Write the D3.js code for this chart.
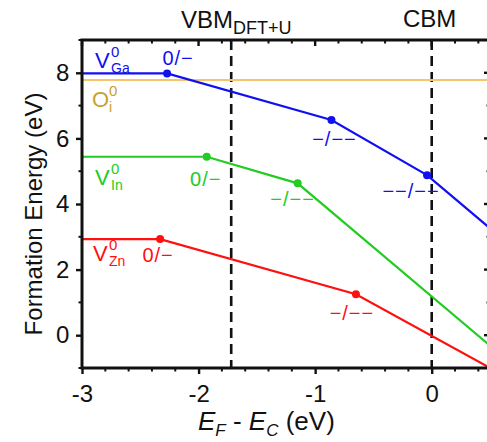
<!DOCTYPE html>
<html>
<head>
<meta charset="utf-8">
<script src="https://cdn.jsdelivr.net/npm/d3@7"></script>
<style>
  html, body { margin: 0; padding: 0; background: #fff; }
  svg { display: block; font-family: "Liberation Sans", Arial, sans-serif; }
</style>
</head>
<body>
<svg id="chart" width="487" height="442"></svg>
<script>
// Formation energy of native defects vs Fermi level (relative to CBM)
const fermiDomain = [-3, 0.5];
const energyDomain = [-1, 9];
const xMajorTicks = [-3, -2, -1, 0];
const yMajorTicks = [0, 2, 4, 6, 8];

// vertices of each defect's lowest-energy line (Fermi level, eV)
const fermi_VGa = [-3, -2.27, -0.86, -0.04, 0.5];
const energy_VGa = [7.98, 7.98, 6.56, 4.88, 3.26];
const fermi_VIn = [-3, -1.93, -1.15, 0.5];
const energy_VIn = [5.44, 5.44, 4.63, -0.32];
const fermi_VZn = [-3, -2.33, -0.65, 0.5];
const energy_VZn = [2.93, 2.93, 1.25, -1.0];
const energy_Oi = 7.78;

// transition-level labels for the interior vertices
const levels_VGa = ["0/\u2212", "\u2212/\u2212\u2212", "\u2212\u2212/\u2212\u2212"];
const levels_VIn = ["0/\u2212", "\u2212/\u2212\u2212"];
const levels_VZn = ["0/\u2212", "\u2212/\u2212\u2212"];

const vbmLevel = -1.72;
const cbmLevel = 0;

const svg = d3.select("#chart");
const pLeft = 82, pRight = 490, pTop = 40, pBottom = 368;

const x = d3.scaleLinear().domain(fermiDomain).range([pLeft, pRight]);
const y = d3.scaleLinear().domain(energyDomain).range([pBottom, pTop]);

const xMinor = d3.range(-3, 0.5001, 0.2).map(v => +v.toFixed(2)).filter(v => !xMajorTicks.some(m => Math.abs(m - v) < 1e-6));
const yMinor = d3.range(-1, 9.001, 1).filter(v => !yMajorTicks.includes(v));

svg.append("defs").append("clipPath").attr("id", "plot")
  .append("rect").attr("x", pLeft).attr("y", pTop).attr("width", pRight - pLeft).attr("height", pBottom - pTop);

const plot = svg.append("g").attr("clip-path", "url(#plot)");

// band edges
[vbmLevel, cbmLevel].forEach(v => {
  plot.append("line")
    .attr("x1", x(v)).attr("x2", x(v)).attr("y1", pTop).attr("y2", pBottom)
    .attr("stroke", "#111").attr("stroke-width", 2.6).attr("stroke-dasharray", "10,6");
});

// interstitial oxygen: constant
plot.append("line")
  .attr("x1", x(fermiDomain[0])).attr("x2", x(fermiDomain[1]))
  .attr("y1", y(energy_Oi)).attr("y2", y(energy_Oi))
  .attr("stroke", "#f5c46e").attr("stroke-width", 2);

const series = [
  { xs: fermi_VGa, ys: energy_VGa, color: "#1010f0", levels: levels_VGa,
    offsets: [[11, -8], [3, 26], [-16, 23]] },
  { xs: fermi_VIn, ys: energy_VIn, color: "#22cc22", levels: levels_VIn,
    offsets: [[-1, 29], [-5, 23]] },
  { xs: fermi_VZn, ys: energy_VZn, color: "#ff1010", levels: levels_VZn,
    offsets: [[-2, 23], [-4, 26]] }
];

const line = d3.line().x(d => x(d[0])).y(d => y(d[1]));

series.forEach(s => {
  const pts = s.xs.map((v, i) => [v, s.ys[i]]);
  plot.append("path").attr("d", line(pts))
    .attr("fill", "none").attr("stroke", s.color).attr("stroke-width", 2.2);
  pts.slice(1, -1).forEach((p, i) => {
    plot.append("circle").attr("cx", x(p[0])).attr("cy", y(p[1])).attr("r", 4).attr("fill", s.color);
    svg.append("text")
      .attr("x", x(p[0]) + s.offsets[i][0]).attr("y", y(p[1]) + s.offsets[i][1])
      .attr("text-anchor", "middle").attr("font-size", 20).attr("letter-spacing", 1)
      .attr("fill", s.color).text(s.levels[i]);
  });
});

// defect name labels with charge superscript and site subscript
function defectLabel(base, sub, px, py, color) {
  const g = svg.append("g").attr("fill", color);
  g.append("text").attr("x", px).attr("y", py).attr("font-size", 22).text(base);
  const w = base === "O" ? 17 : 16;
  g.append("text").attr("x", px + w).attr("y", py - 11).attr("font-size", 15).text("0");
  g.append("text").attr("x", px + w).attr("y", py + 5).attr("font-size", 14).text(sub);
}
defectLabel("V", "Ga", 95, y(energy_VGa[0]) - 5, "#1010f0");
defectLabel("O", "i", 92, y(energy_Oi) + 27, "#c9a12e");
defectLabel("V", "In", 95, y(energy_VIn[0]) + 28, "#22cc22");
defectLabel("V", "Zn", 93, y(energy_VZn[0]) + 22, "#ff1010");

// axes
const axisG = svg.append("g").attr("stroke", "#111");
const tickLine = (x1, y1, x2, y2, w) => axisG.append("line")
  .attr("x1", x1).attr("y1", y1).attr("x2", x2).attr("y2", y2).attr("stroke-width", w);

const plainFormat = d => String(d);

const bottomAxis = d3.axisBottom(x).tickValues(xMajorTicks).tickSize(6).tickFormat(plainFormat);
const gB = svg.append("g").attr("transform", `translate(0,${pBottom})`).call(bottomAxis);
gB.select(".domain").remove();
gB.selectAll(".tick line").attr("stroke", "#111").attr("stroke-width", 2.4);
gB.selectAll(".tick text").attr("font-size", 24).attr("dy", "1.05em").attr("fill", "#111")
  .attr("font-family", "Liberation Sans, Arial, sans-serif");
xMinor.forEach(v => tickLine(x(v), pBottom, x(v), pBottom + 3.5, 2));

const leftAxis = d3.axisLeft(y).tickValues(yMajorTicks).tickSize(6).tickFormat(plainFormat);
const gL = svg.append("g").attr("transform", `translate(${pLeft},0)`).call(leftAxis);
gL.select(".domain").remove();
gL.selectAll(".tick line").attr("stroke", "#111").attr("stroke-width", 2.4);
gL.selectAll(".tick text").attr("font-size", 24).attr("dx", "-0.15em").attr("fill", "#111")
  .attr("font-family", "Liberation Sans, Arial, sans-serif");
yMinor.forEach(v => tickLine(pLeft, y(v), pLeft - 3.5, y(v), 2));

// mirrored ticks on top and right, pointing inward
xMajorTicks.forEach(v => tickLine(x(v), pTop, x(v), pTop + 6, 2.4));
xMinor.forEach(v => tickLine(x(v), pTop, x(v), pTop + 3.5, 2));
yMajorTicks.forEach(v => tickLine(pRight, y(v), pRight - 6, y(v), 2.4));
yMinor.forEach(v => tickLine(pRight, y(v), pRight - 3.5, y(v), 2));

// frame
svg.append("rect").attr("x", pLeft).attr("y", pTop).attr("width", pRight - pLeft).attr("height", pBottom - pTop)
  .attr("fill", "none").attr("stroke", "#111").attr("stroke-width", 3);

// band-edge captions
const vbmText = svg.append("text").attr("x", x(vbmLevel) + 5).attr("y", 28)
  .attr("text-anchor", "middle").attr("font-size", 24).attr("fill", "#111");
vbmText.append("tspan").text("VBM");
vbmText.append("tspan").attr("font-size", 18).attr("dy", 6).text("DFT+U");
svg.append("text").attr("x", x(cbmLevel) - 2).attr("y", 27)
  .attr("text-anchor", "middle").attr("font-size", 24).attr("fill", "#111").text("CBM");

// axis titles
svg.append("text").attr("transform", `translate(42,${(pTop + pBottom) / 2 + 10}) rotate(-90)`)
  .attr("text-anchor", "middle").attr("font-size", 24).attr("fill", "#111")
  .text("Formation Energy (eV)");

const xt = svg.append("text").attr("x", 198).attr("y", 430).attr("font-size", 26).attr("fill", "#111");
xt.append("tspan").attr("font-style", "italic").text("E");
xt.append("tspan").attr("font-style", "italic").attr("font-size", 17).attr("dy", 6).text("F");
xt.append("tspan").attr("dy", -6).text(" - ");
xt.append("tspan").attr("font-style", "italic").text("E");
xt.append("tspan").attr("font-style", "italic").attr("font-size", 17).attr("dy", 6).text("C");
xt.append("tspan").attr("dy", -6).text(" (eV)");
</script>
</body>
</html>
